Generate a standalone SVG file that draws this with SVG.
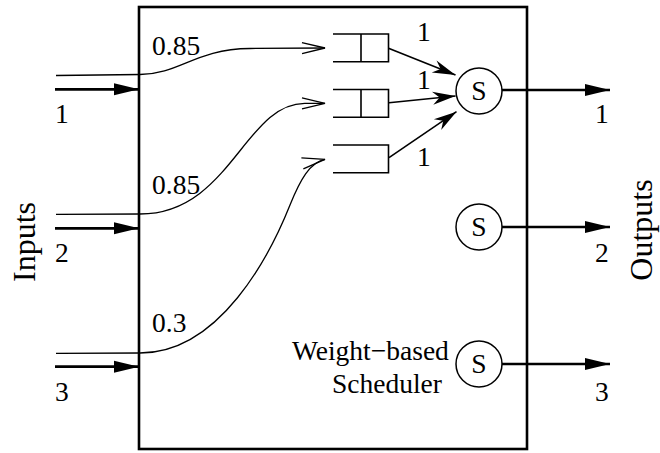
<svg xmlns="http://www.w3.org/2000/svg" width="660" height="453" viewBox="0 0 660 453">
<style>
text{font-family:"Liberation Serif","Times New Roman",serif;fill:#000}
.t{font-size:27.5px}
.big{font-size:32px}
.thick{stroke:#000;stroke-width:2.7;fill:none}
.thin{stroke:#000;stroke-width:1.3;fill:none}
.med{stroke:#000;stroke-width:1.6;fill:none}
.q{stroke:#000;stroke-width:1.6;fill:none}
.c{stroke:#000;stroke-width:1.5;fill:#fff}
</style>
<defs>
<marker id="solid" markerUnits="userSpaceOnUse" markerWidth="30" markerHeight="16" refX="0" refY="0" viewBox="-26 -8 28 16" orient="auto">
<path d="M0,0 L-25,-6 L-25,6 Z" fill="#000"/>
</marker>
<marker id="barb" markerUnits="userSpaceOnUse" markerWidth="30" markerHeight="16" refX="0" refY="0" viewBox="-26 -8 28 16" orient="auto">
<path d="M0,0 L-23,-6.5 L-16,0 L-23,6.5 Z" fill="#000"/>
</marker>
<marker id="open" markerUnits="userSpaceOnUse" markerWidth="30" markerHeight="16" refX="0" refY="0" viewBox="-26 -8 28 16" orient="auto">
<path d="M-23,-5.5 L0,0 L-23,5.5" fill="none" stroke="#000" stroke-width="1.3"/>
</marker>
</defs>

<g id="box">
<rect x="139" y="7" width="388" height="442" fill="none" stroke="#000" stroke-width="2.6"/>
</g>

<g id="queue1">
<path class="q" d="M333,34 H388.5 V61.7 H333 M361,34 V61.7"/>
</g>
<g id="queue2">
<path class="q" d="M333,89.5 H388.5 V117.3 H333 M361,89.5 V117.3"/>
</g>
<g id="queue3">
<path class="q" d="M333,145 H388.5 V172.7 H333"/>
</g>

<g id="sched1">
<circle class="c" cx="479" cy="91" r="23"/>
<text class="t" x="479" y="100" text-anchor="middle">S</text>
</g>
<g id="sched2">
<circle class="c" cx="479" cy="227" r="23"/>
<text class="t" x="479" y="236" text-anchor="middle">S</text>
</g>
<g id="sched3">
<circle class="c" cx="479" cy="364" r="23"/>
<text class="t" x="479" y="373" text-anchor="middle">S</text>
</g>

<g id="connectors">
<path class="thick" d="M55,89.3 H139" marker-end="url(#solid)"/>
<path class="thick" d="M55,228.3 H139" marker-end="url(#solid)"/>
<path class="thick" d="M55,366.7 H139" marker-end="url(#solid)"/>
<path class="thick" d="M502,90 H610" marker-end="url(#solid)"/>
<path class="thick" d="M502,227 H610" marker-end="url(#solid)"/>
<path class="thick" d="M502,364 H610" marker-end="url(#solid)"/>
<path class="thin" d="M56,75.5 L140,74.5 C180,74 195,49 250,48.5 L325,48" marker-end="url(#open)"/>
<path class="thin" d="M56,214.3 L140,214 C230,214 245,103 305,103.3 L325,103.3" marker-end="url(#open)"/>
<path class="thin" d="M56,353.3 L140,353 C220,353 270,255 290,205 C300,180 310,162 325,159.3" marker-end="url(#open)"/>
<path class="med" d="M388.5,48.3 L455.5,75" marker-end="url(#barb)"/>
<path class="med" d="M389,102.7 L455.5,96" marker-end="url(#barb)"/>
<path class="med" d="M389,157.7 L456.5,111.7" marker-end="url(#barb)"/>
</g>

<g id="labels">
<text class="t" x="152" y="55">0.85</text>
<text class="t" x="152" y="194">0.85</text>
<text class="t" x="152" y="332">0.3</text>
<text class="t" x="417" y="41">1</text>
<text class="t" x="417" y="89">1</text>
<text class="t" x="417" y="166">1</text>
<text class="t" x="55" y="123">1</text>
<text class="t" x="55" y="262">2</text>
<text class="t" x="55" y="401">3</text>
<text class="t" x="595" y="123">1</text>
<text class="t" x="595" y="262">2</text>
<text class="t" x="595" y="401">3</text>
<text class="t" x="292" y="360">Weight−based</text>
<text class="t" x="332" y="393">Scheduler</text>
<text class="big" transform="translate(35,242) rotate(-90)" text-anchor="middle">Inputs</text>
<text class="big" transform="translate(652,230) rotate(-90)" text-anchor="middle">Outputs</text>
</g>
</svg>
